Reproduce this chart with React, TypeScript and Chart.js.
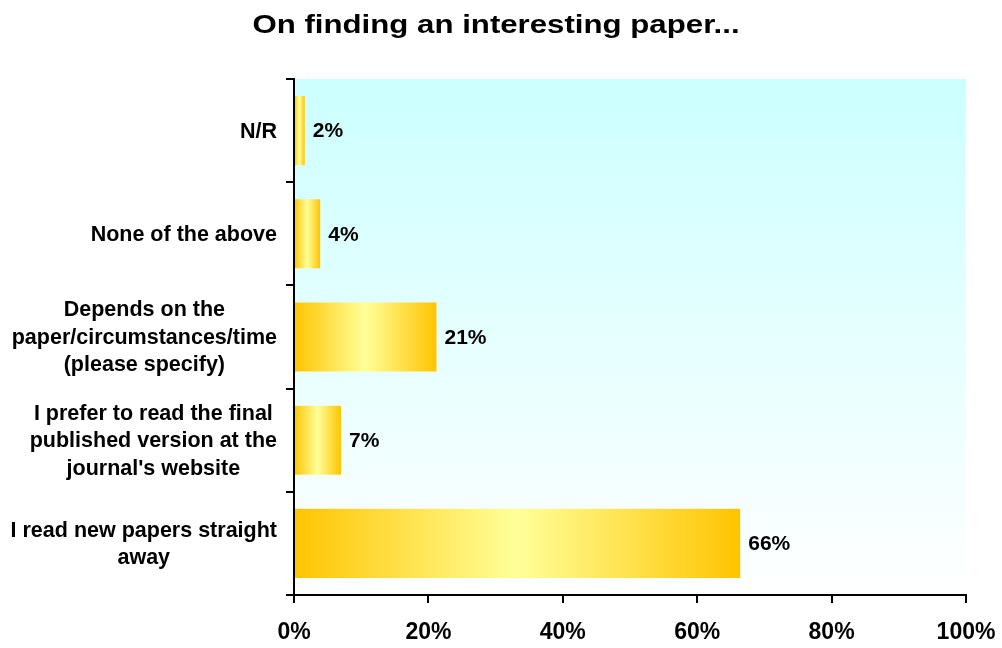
import React, { useEffect, useRef } from "react";
import { Chart, registerables } from "chart.js";

Chart.register(...registerables);

const TITLE = "On finding an interesting paper...";
const categories: string[][] = [
  ["N/R"],
  ["None of the above"],
  ["Depends on the", "paper/circumstances/time", "(please specify)"],
  ["I prefer to read the final", "published version at the", "journal's website"],
  ["I read new papers straight", "away"],
];
const values: number[] = [1.6, 3.9, 21.2, 7.0, 66.4];
const xMin = 0;
const xMax = 100;
const xStep = 20;

const FONT = "'Liberation Sans', Arial, Helvetica, sans-serif";

export default function App() {
  const ref = useRef<HTMLCanvasElement | null>(null);

  useEffect(() => {
    const canvas = ref.current;
    if (!canvas) return;

    const bgPlugin = {
      id: "bgPlugin",
      beforeDraw(chart: any) {
        const { ctx, chartArea } = chart;
        if (!chartArea) return;
        ctx.save();
        const g = ctx.createLinearGradient(0, chartArea.top, 0, chartArea.bottom);
        g.addColorStop(0, "#CCFFFF");
        g.addColorStop(1, "#FFFFFF");
        ctx.fillStyle = g;
        ctx.fillRect(chartArea.left, chartArea.top, chartArea.right - chartArea.left, chartArea.bottom - chartArea.top);
        ctx.restore();
      },
    };

    const textPlugin = {
      id: "textPlugin",
      afterDatasetsDraw(chart: any) {
        const { ctx } = chart;
        const meta = chart.getDatasetMeta(0);
        ctx.save();
        ctx.fillStyle = "#000";
        ctx.font = `bold 21px ${FONT}`;
        ctx.textAlign = "left";
        ctx.textBaseline = "middle";
        meta.data.forEach((el: any, i: number) => {
          ctx.fillText(Math.round(values[i]) + "%", el.x + 8, el.y + 1);
        });
        ctx.restore();
      },
      afterDraw(chart: any) {
        const { ctx, chartArea } = chart;
        const yScale = chart.scales.y;
        ctx.save();
        ctx.fillStyle = "#000";
        // Title
        ctx.font = `bold 26px ${FONT}`;
        ctx.textAlign = "center";
        ctx.textBaseline = "alphabetic";
        ctx.translate(496, 33);
        ctx.scale(1.2, 1);
        ctx.fillText(TITLE, 0, 0);
        ctx.setTransform(1, 0, 0, 1, 0, 0);
        // Category labels
        ctx.font = `bold 21.5px ${FONT}`;
        ctx.textBaseline = "middle";
        ctx.textAlign = "center";
        const right = chartArea.left - 17;
        const LH = 27.5;
        categories.forEach((lines, i) => {
          const yc = yScale.getPixelForValue(i);
          const w = Math.max(...lines.map((l) => ctx.measureText(l).width));
          const cx = right - w / 2;
          const y0 = yc - ((lines.length - 1) * LH) / 2;
          lines.forEach((l, j) => ctx.fillText(l, cx, y0 + j * LH + 1));
        });
        ctx.restore();
      },
    };

    const chart = new Chart(canvas, {
      type: "bar",
      data: {
        labels: categories.map((c) => c.join(" ")),
        datasets: [
          {
            data: values,
            backgroundColor: (c: any) => {
              const ch = c.chart;
              const xs = ch.scales && ch.scales.x;
              const v = values[c.dataIndex] ?? 0;
              if (!xs) return "#FFD700";
              const x0 = xs.getPixelForValue(0);
              const x1 = xs.getPixelForValue(v);
              if (!isFinite(x0) || !isFinite(x1) || x1 - x0 < 1) return "#FFD700";
              const g = ch.ctx.createLinearGradient(x0, 0, x1, 0);
              g.addColorStop(0, "#FFC400");
              g.addColorStop(0.5, "#FFFF99");
              g.addColorStop(1, "#FFC400");
              return g;
            },
            borderWidth: 0,
            barPercentage: 0.67,
            categoryPercentage: 1,
          },
        ],
      },
      options: {
        indexAxis: "y",
        responsive: false,
        animation: false,
        layout: { padding: { top: 79, right: 36, left: 0, bottom: 0 } },
        plugins: {
          legend: { display: false },
          title: { display: false },
          tooltip: { enabled: false },
        },
        scales: {
          x: {
            min: xMin,
            max: xMax,
            ticks: {
              stepSize: xStep,
              callback: (v: any) => v + "%",
              color: "#000",
              font: { family: FONT, size: 23, weight: "bold" },
              padding: 16,
              maxRotation: 0,
            },
            grid: {
              drawOnChartArea: false,
              drawTicks: true,
              tickLength: 8,
              color: "#000",
              lineWidth: 2,
            },
            border: { display: true, color: "#000", width: 2 },
            afterFit: (s: any) => {
              s.height = 53;
              s.paddingLeft = 0;
              s.paddingRight = 0;
            },
          },
          y: {
            ticks: { display: false },
            grid: {
              drawOnChartArea: false,
              drawTicks: true,
              tickLength: 8,
              color: "#000",
              lineWidth: 2,
              offset: true,
            },
            border: { display: true, color: "#000", width: 2 },
            afterFit: (s: any) => {
              s.width = 294;
              s.paddingTop = 0;
              s.paddingBottom = 0;
            },
          },
        },
      },
      plugins: [bgPlugin, textPlugin],
    } as any);

    return () => chart.destroy();
  }, []);

  return (
    <div style={{ position: "absolute", left: 0, top: 0, width: 1002, height: 648, background: "#fff" }}>
      <canvas ref={ref} width={1002} height={648} style={{ display: "block" }} />
    </div>
  );
}
